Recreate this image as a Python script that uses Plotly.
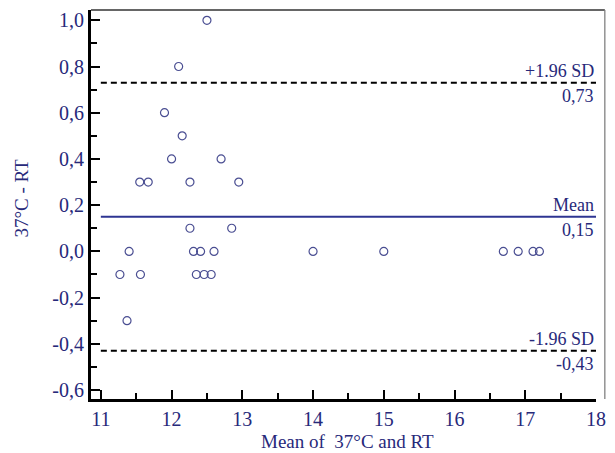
import plotly.graph_objects as go

# Bland-Altman data: mean of the two measurements vs. their difference
mean_vals = [12.5, 12.1, 11.9, 12.15, 12.0, 12.7,
             11.55, 11.67, 12.26, 12.95,
             12.26, 12.85,
             11.4, 12.31, 12.41, 12.6, 14.0, 15.0, 16.69, 16.9, 17.11, 17.2,
             11.27, 11.56, 12.35, 12.46, 12.56,
             11.37]
diff_vals = [1.0, 0.8, 0.6, 0.5, 0.4, 0.4,
             0.3, 0.3, 0.3, 0.3,
             0.1, 0.1,
             0.0, 0.0, 0.0, 0.0, 0.0, 0.0, 0.0, 0.0, 0.0, 0.0,
             -0.1, -0.1, -0.1, -0.1, -0.1,
             -0.3]

# Reference lines: value, label above, label below, style
ref_values = [0.73, 0.15, -0.43]
ref_names = ["+1.96 SD", "Mean", "-1.96 SD"]
ref_value_labels = ["0,73", "0,15", "-0,43"]
ref_dashes = ["dash", "solid", "dash"]
ref_colors = ["black", "#2e3592", "black"]

x_ticks = [11, 12, 13, 14, 15, 16, 17, 18]
y_ticks = [-0.6, -0.4, -0.2, 0.0, 0.2, 0.4, 0.6, 0.8, 1.0]
y_tick_labels = ["-0,6", "-0,4", "-0,2", "0,0", "0,2", "0,4", "0,6", "0,8", "1,0"]

NAVY = "#27297a"
FONT = "Liberation Serif, Times New Roman, serif"
X_LO, X_HI = 11, 18

fig = go.Figure()

for v, dash, col in zip(ref_values, ref_dashes, ref_colors):
    fig.add_trace(go.Scatter(
        x=[X_LO, X_HI], y=[v, v], mode="lines",
        line=dict(color=col, width=2, dash="6px,4px" if dash == "dash" else "solid"),
        hoverinfo="skip", showlegend=False))

fig.add_trace(go.Scatter(
    x=mean_vals, y=diff_vals, mode="markers",
    marker=dict(symbol="circle-open", size=8, color="#4a4e92",
                line=dict(width=1.2, color="#4a4e92")),
    showlegend=False))

annotations = []
for v, name, lab in zip(ref_values, ref_names, ref_value_labels):
    annotations.append(dict(x=X_HI, y=v, xref="x", yref="y", text=name,
                            showarrow=False, xanchor="right", yanchor="bottom",
                            yshift=0, font=dict(family=FONT, size=18, color=NAVY)))
    annotations.append(dict(x=X_HI, y=v, xref="x", yref="y", text=lab,
                            showarrow=False, xanchor="right", yanchor="top",
                            yshift=-1, font=dict(family=FONT, size=18, color=NAVY)))

# axis titles placed as free text (pixel positions, converted below)
annotations.append(dict(x=352, y=442, xref="paper", yref="paper", text="Mean of  37°C and RT",
                        showarrow=False, xanchor="center", yanchor="middle",
                        font=dict(family=FONT, size=19, color=NAVY)))
annotations.append(dict(x=20, y=198, xref="paper", yref="paper", text="37°C - RT",
                        showarrow=False, xanchor="center", yanchor="middle", textangle=-90,
                        font=dict(family=FONT, size=19, color=NAVY)))

# thin outer frame on the top and right sides
shapes = [
    dict(type="line", xref="paper", yref="paper", x0=0, x1=1.0175, y0=1, y1=1,
         line=dict(color="#333333", width=1.5)),
    dict(type="line", xref="paper", yref="paper", x0=1.0175, x1=1.0175, y0=0, y1=1,
         line=dict(color="#777777", width=1.2)),
]

L, R, T, B = 91, 11, 9, 54
W, H = 615, 453
pw, ph = W - L - R, H - T - B
for a in annotations[-2:]:
    a["x"] = (a["x"] - L) / pw
    a["y"] = (H - B - a["y"]) / ph

fig.update_layout(
    width=W, height=H,
    margin=dict(l=L, r=R, t=T, b=B),
    paper_bgcolor="white", plot_bgcolor="white",
    font=dict(family=FONT, size=18, color=NAVY),
    annotations=annotations, shapes=shapes,
    xaxis=dict(range=[10.861, 18.0], tickvals=x_ticks,
               ticktext=[str(t) for t in x_ticks],
               ticks="inside", ticklen=9, tickwidth=2, tickcolor="black",
               minor=dict(dtick=0.5, ticks="inside", ticklen=6, tickwidth=2,
                          tickcolor="black", showgrid=False),
               showline=True, linecolor="black", linewidth=3,
               showgrid=False, zeroline=False,
               tickfont=dict(family=FONT, size=20, color=NAVY)),
    yaxis=dict(range=[-0.6388, 1.0445], tickvals=y_ticks, ticktext=y_tick_labels,
               ticks="inside", ticklen=9, tickwidth=2, tickcolor="black",
               minor=dict(dtick=0.1, ticks="inside", ticklen=6, tickwidth=2,
                          tickcolor="black", showgrid=False),
               showline=True, linecolor="black", linewidth=3,
               showgrid=False, zeroline=False,
               tickfont=dict(family=FONT, size=20, color=NAVY)),
)

fig.write_html("out.html")
